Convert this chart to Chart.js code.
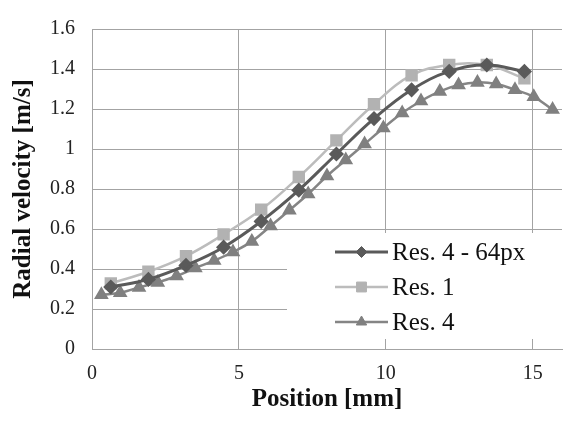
<!DOCTYPE html>
<html>
<head>
<meta charset="utf-8">
<script src="https://cdn.jsdelivr.net/npm/chart.js@4/dist/chart.umd.min.js"></script>
<style>
  body { margin: 0; background: #fff; }
</style>
</head>
<body>
<canvas id="velChart" width="564" height="423"></canvas>
<script>
// data
const pos64 = [0.64, 1.92, 3.20, 4.48, 5.76, 7.04, 8.32, 9.60, 10.88, 12.16, 13.44, 14.72];
const vel64 = [0.31, 0.348, 0.418, 0.509, 0.638, 0.794, 0.975, 1.152, 1.296, 1.388, 1.42, 1.388];

const posRes1 = [0.64, 1.92, 3.20, 4.48, 5.76, 7.04, 8.32, 9.60, 10.88, 12.16, 13.44, 14.72];
const velRes1 = [0.328, 0.386, 0.464, 0.573, 0.697, 0.86, 1.043, 1.224, 1.369, 1.42, 1.42, 1.353];

const posRes4 = [0.32, 0.96, 1.60, 2.24, 2.88, 3.52, 4.16, 4.80, 5.44, 6.08, 6.72, 7.36, 8.00,
                 8.64, 9.28, 9.92, 10.56, 11.20, 11.84, 12.48, 13.12, 13.76, 14.40, 15.04, 15.68];
const velRes4 = [0.271, 0.281, 0.308, 0.333, 0.365, 0.405, 0.442, 0.485, 0.538, 0.615, 0.694, 0.775, 0.865,
                 0.945, 1.025, 1.105, 1.18, 1.24, 1.288, 1.32, 1.333, 1.325, 1.296, 1.261, 1.197];

const xTicks = [0, 5, 10, 15];
const seriesNames = ['Res. 4 - 64px', 'Res. 1', 'Res. 4'];

const FONT = "'Liberation Serif', 'Times New Roman', serif";
const GRID = '#a3a3a3';

// turn two arrays into {x, y} points
function toPoints(xs, ys) {
  return xs.map((x, i) => ({ x: x, y: ys[i] }));
}

// legend sits inside the plot on a white box, like the Excel original
const insideLegend = {
  id: 'insideLegend',
  afterDraw(chart) {
    const ctx = chart.ctx;
    const area = chart.chartArea;
    ctx.save();
    ctx.fillStyle = '#fff';
    ctx.fillRect(287, 233, area.right - 287 + 2, 106);

    const rows = [252, 287, 322];
    chart.data.datasets.forEach((ds, i) => {
      const y = rows[i];
      ctx.strokeStyle = ds.borderColor;
      ctx.lineWidth = ds.borderWidth;
      ctx.beginPath();
      ctx.moveTo(335, y);
      ctx.lineTo(388, y);
      ctx.stroke();
      if (Chart.helpers && Chart.helpers.drawPoint) {
        ctx.fillStyle = ds.pointBackgroundColor;
        ctx.strokeStyle = ds.pointBorderColor;
        ctx.lineWidth = 1;
        Chart.helpers.drawPoint(ctx, {
          pointStyle: ds.pointStyle, radius: ds.pointRadius, rotation: 0, borderWidth: 1
        }, 361.5, y);
      }
      ctx.fillStyle = '#111';
      ctx.font = '25px ' + FONT;
      ctx.textBaseline = 'middle';
      ctx.textAlign = 'left';
      ctx.fillText(seriesNames[i], 392, y + 1);
    });
    ctx.restore();
  }
};

new Chart(document.getElementById('velChart'), {
  type: 'line',
  data: {
    datasets: [
      {
        label: seriesNames[0],
        data: toPoints(pos64, vel64),
        borderColor: '#5a5a5a',
        backgroundColor: '#5a5a5a',
        borderWidth: 3,
        pointStyle: 'rectRot',
        pointRadius: 5.5,
        pointBackgroundColor: '#5a5a5a',
        pointBorderColor: '#5a5a5a',
        tension: 0.4
      },
      {
        label: seriesNames[1],
        data: toPoints(posRes1, velRes1),
        borderColor: '#bcbcbc',
        backgroundColor: '#b2b2b2',
        borderWidth: 2.5,
        pointStyle: 'rect',
        pointRadius: 7,
        pointBackgroundColor: '#b2b2b2',
        pointBorderColor: '#b2b2b2',
        tension: 0.4
      },
      {
        label: seriesNames[2],
        data: toPoints(posRes4, velRes4),
        borderColor: '#858585',
        backgroundColor: '#808080',
        borderWidth: 2.5,
        pointStyle: 'triangle',
        pointRadius: 6,
        pointBackgroundColor: '#808080',
        pointBorderColor: '#808080',
        tension: 0.4
      }
    ]
  },
  options: {
    responsive: false,
    animation: false,
    layout: { autoPadding: false, padding: { top: 17, right: 2, left: 0, bottom: 0 } },
    plugins: {
      legend: { display: false },
      tooltip: { enabled: false }
    },
    scales: {
      x: {
        type: 'linear',
        min: 0,
        max: 16,
        afterBuildTicks: scale => { scale.ticks = xTicks.map(v => ({ value: v })); },
        afterFit: scale => {
          scale.height = 74;
          scale.paddingLeft = 0;
          scale.paddingRight = 0;
        },
        grid: { color: GRID, drawTicks: false },
        border: { color: GRID },
        ticks: { font: { family: FONT, size: 20 }, color: '#222', padding: 13, maxRotation: 0 },
        title: {
          display: true,
          text: 'Position [mm]',
          font: { family: FONT, size: 25, weight: 'bold' },
          color: '#111',
          padding: { bottom: 8, top: 0 }
        }
      },
      y: {
        min: 0,
        max: 1.6,
        ticks: {
          stepSize: 0.2,
          font: { family: FONT, size: 20 },
          color: '#222',
          padding: 17,
          callback: v => String(+v.toFixed(1))
        },
        afterFit: scale => { scale.width = 92; },
        grid: { color: GRID, drawTicks: false },
        border: { color: GRID },
        title: {
          display: true,
          text: 'Radial velocity [m/s]',
          font: { family: FONT, size: 25, weight: 'bold' },
          color: '#111',
          padding: { top: 9, bottom: 0 }
        }
      }
    }
  },
  plugins: [insideLegend]
});
</script>
</body>
</html>
